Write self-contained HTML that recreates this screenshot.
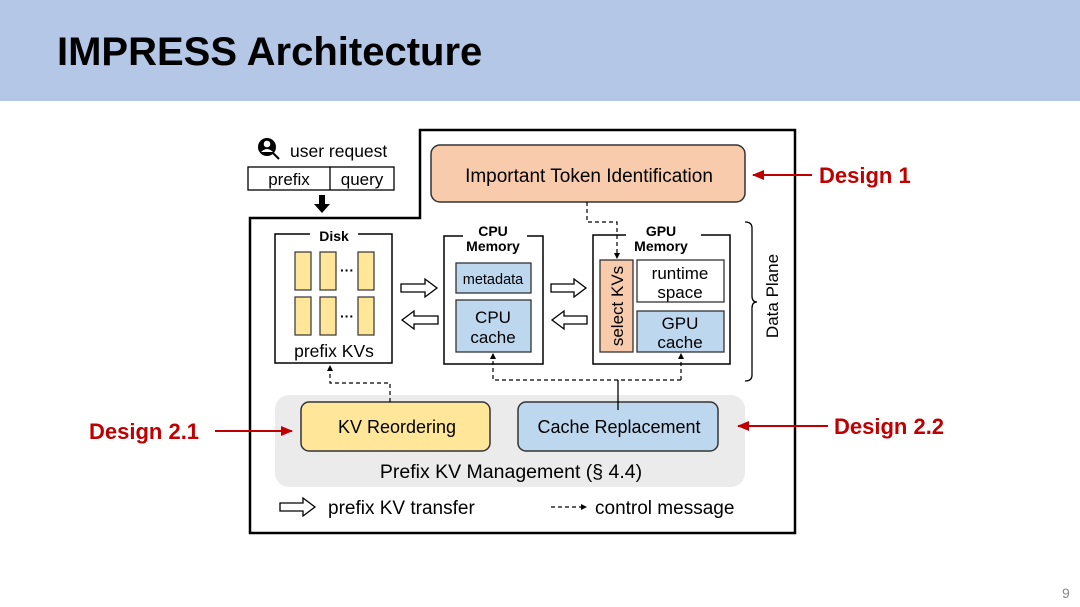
<!DOCTYPE html>
<html><head><meta charset="utf-8"><style>
body{margin:0;width:1080px;height:607px;background:#fff;overflow:hidden}
svg{display:block}
text{font-family:"Liberation Sans",Arial,sans-serif}
</style></head><body>
<svg width="1080" height="607" viewBox="0 0 1080 607" xmlns="http://www.w3.org/2000/svg">
<defs>
<marker id="ah" markerWidth="6" markerHeight="6" refX="5" refY="3" orient="auto" markerUnits="userSpaceOnUse"><path d="M0,0 L6,3 L0,6 z" fill="#000"/></marker>
<marker id="rh" markerWidth="12" markerHeight="10" refX="11" refY="5" orient="auto" markerUnits="userSpaceOnUse"><path d="M0,0 L12,5 L0,10 z" fill="#c00000"/></marker>
</defs>
<rect x="0" y="0" width="1080" height="101" fill="#b4c7e7"/>
<text x="57" y="65" font-size="40" font-weight="bold" fill="#000">IMPRESS Architecture</text>
<text x="1062" y="598" font-size="14" fill="#888">9</text>

<path d="M250,218 H420 V130 H795 V533 H250 Z" fill="none" stroke="#000" stroke-width="2.5"/>

<rect x="431" y="145" width="314" height="57" rx="9" fill="#f8cbad" stroke="#333" stroke-width="1.5"/>
<text x="589" y="182" font-size="19" text-anchor="middle">Important Token Identification</text>

<circle cx="267" cy="147" r="9" fill="#000"/>
<circle cx="267" cy="144" r="3.3" fill="#fff"/>
<path d="M261,152 Q267,146 273,152" fill="#fff"/>
<line x1="273" y1="153" x2="279" y2="159" stroke="#000" stroke-width="2"/>
<text x="290" y="157" font-size="17.5">user request</text>
<rect x="248" y="167" width="146" height="23" fill="#fff" stroke="#000" stroke-width="1.3"/>
<line x1="330" y1="167" x2="330" y2="190" stroke="#000" stroke-width="1.3"/>
<text x="289" y="185" font-size="17" text-anchor="middle">prefix</text>
<text x="362" y="185" font-size="17" text-anchor="middle">query</text>
<path d="M319,195 h6 v9 h5 l-8,9 l-8,-9 h5 z" fill="#000"/>

<path d="M310,234 H275 V363 H392 V234 H358" fill="none" stroke="#000" stroke-width="1.5"/>
<text x="334" y="241" font-size="14" font-weight="bold" text-anchor="middle">Disk</text>
<g fill="#ffe699" stroke="#333" stroke-width="1.2">
<rect x="295" y="252" width="16" height="38"/><rect x="320" y="252" width="16" height="38"/><rect x="358" y="252" width="16" height="38"/>
<rect x="295" y="297" width="16" height="38"/><rect x="320" y="297" width="16" height="38"/><rect x="358" y="297" width="16" height="38"/>
</g>
<text x="347" y="275" font-size="14" text-anchor="middle" font-weight="bold">···</text>
<text x="347" y="321" font-size="14" text-anchor="middle" font-weight="bold">···</text>
<text x="334" y="357" font-size="17.5" text-anchor="middle">prefix KVs</text>

<path d="M463,236 H444 V364 H543 V236 H527" fill="none" stroke="#000" stroke-width="1.5"/>
<text x="493" y="236" font-size="14" font-weight="bold" text-anchor="middle">CPU</text>
<text x="493" y="251" font-size="14" font-weight="bold" text-anchor="middle">Memory</text>
<rect x="456" y="263" width="75" height="30" fill="#bdd7ee" stroke="#333" stroke-width="1.3"/>
<text x="493" y="284" font-size="14.5" text-anchor="middle">metadata</text>
<rect x="456" y="300" width="75" height="52" fill="#bdd7ee" stroke="#333" stroke-width="1.3"/>
<text x="493" y="323" font-size="17" text-anchor="middle">CPU</text>
<text x="493" y="343" font-size="17" text-anchor="middle">cache</text>

<g fill="#fff" stroke="#000" stroke-width="1.3">
<path d="M401,284 h24 v-5 l12,9 l-12,9 v-5 h-24 z"/>
<path d="M438,316 h-24 v-5 l-12,9 l12,9 v-5 h24 z"/>
<path d="M551,284 h23 v-5 l12,9 l-12,9 v-5 h-23 z"/>
<path d="M587,316 h-23 v-5 l-12,9 l12,9 v-5 h23 z"/>
<path d="M280,503 h23 v-5 l12,9 l-12,9 v-5 h-23 z"/>
</g>

<path d="M626,235 H593 V364 H730 V235 H701" fill="none" stroke="#000" stroke-width="1.5"/>
<text x="661" y="236" font-size="14" font-weight="bold" text-anchor="middle">GPU</text>
<text x="661" y="251" font-size="14" font-weight="bold" text-anchor="middle">Memory</text>
<rect x="600" y="260" width="33" height="92" fill="#f8cbad" stroke="#333" stroke-width="1.3"/>
<text transform="translate(623,306) rotate(-90)" font-size="17" text-anchor="middle">select KVs</text>
<rect x="637" y="260" width="87" height="42" fill="#fff" stroke="#333" stroke-width="1.3"/>
<text x="680" y="279" font-size="17" text-anchor="middle">runtime</text>
<text x="680" y="298" font-size="17" text-anchor="middle">space</text>
<rect x="637" y="311" width="87" height="41" fill="#bdd7ee" stroke="#333" stroke-width="1.3"/>
<text x="680" y="329" font-size="17" text-anchor="middle">GPU</text>
<text x="680" y="348" font-size="17" text-anchor="middle">cache</text>

<path d="M587,202 V222 H617 V258" fill="none" stroke="#000" stroke-width="1.2" stroke-dasharray="4,3" marker-end="url(#ah)"/>

<path d="M745,222 Q752,222 752,228 V296 Q752,302 757,302 Q752,302 752,308 V375 Q752,381 745,381" fill="none" stroke="#000" stroke-width="1.3"/>
<text transform="translate(778,296) rotate(-90)" font-size="17" text-anchor="middle">Data Plane</text>

<rect x="275" y="395" width="470" height="92" rx="14" fill="#ebebeb"/>
<rect x="301" y="402" width="189" height="49" rx="8" fill="#ffe699" stroke="#333" stroke-width="1.5"/>
<text x="397" y="433" font-size="18" text-anchor="middle">KV Reordering</text>
<rect x="518" y="402" width="200" height="49" rx="8" fill="#bdd7ee" stroke="#333" stroke-width="1.5"/>
<text x="619" y="433" font-size="18" text-anchor="middle">Cache Replacement</text>
<text x="511" y="478" font-size="19.5" text-anchor="middle">Prefix KV Management (§ 4.4)</text>

<path d="M390,402 V383 H330 V366" fill="none" stroke="#000" stroke-width="1.2" stroke-dasharray="4,3" marker-end="url(#ah)"/>
<path d="M681,380 V354" fill="none" stroke="#000" stroke-width="1.2" stroke-dasharray="4,3" marker-end="url(#ah)"/>
<path d="M681,380 H493 V354" fill="none" stroke="#000" stroke-width="1.2" stroke-dasharray="4,3" marker-end="url(#ah)"/>
<line x1="618" y1="380" x2="618" y2="410" stroke="#000" stroke-width="1.3"/>

<text x="328" y="514" font-size="19">prefix KV transfer</text>
<path d="M551,507 H586" fill="none" stroke="#000" stroke-width="1.2" stroke-dasharray="4,3" marker-end="url(#ah)"/>
<text x="595" y="514" font-size="19">control message</text>

<line x1="812" y1="175" x2="753" y2="175" stroke="#c00000" stroke-width="2" marker-end="url(#rh)"/>
<text x="819" y="183" font-size="22" font-weight="bold" fill="#c00000">Design 1</text>
<line x1="215" y1="431" x2="292" y2="431" stroke="#c00000" stroke-width="2" marker-end="url(#rh)"/>
<text x="89" y="439" font-size="22" font-weight="bold" fill="#c00000">Design 2.1</text>
<line x1="828" y1="426" x2="738" y2="426" stroke="#c00000" stroke-width="2" marker-end="url(#rh)"/>
<text x="834" y="434" font-size="22" font-weight="bold" fill="#c00000">Design 2.2</text>
</svg>
</body></html>
